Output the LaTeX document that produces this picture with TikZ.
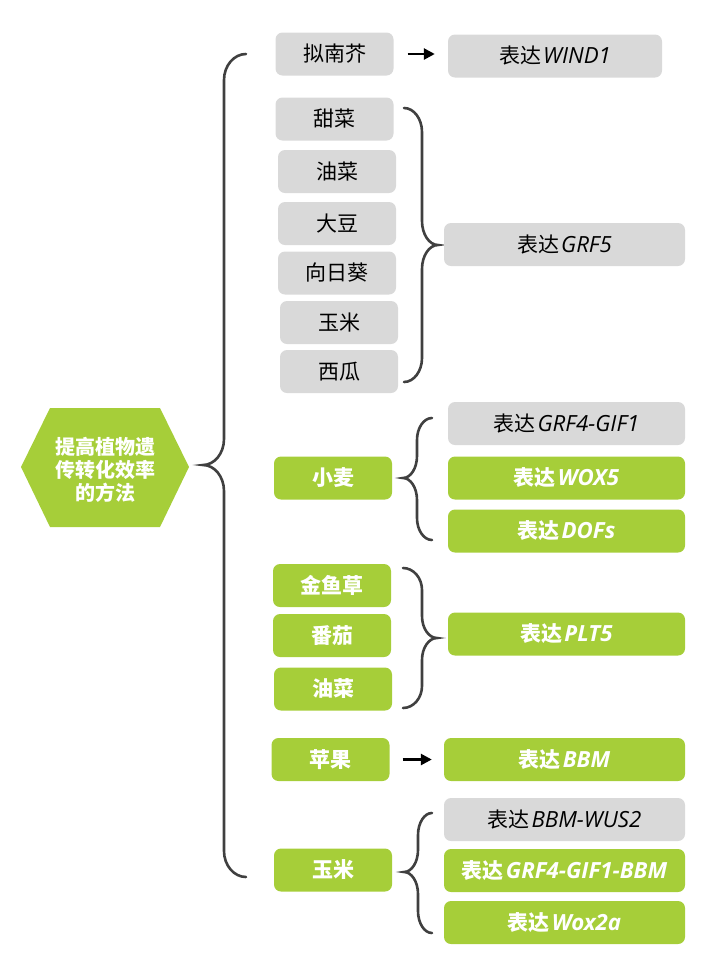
\documentclass[tikz,border=0pt]{standalone}
\usepackage{fontspec}
\setmainfont{Noto Sans CJK SC}
\newfontfamily\genefont[Scale=1.06]{Open Sans}
\usetikzlibrary{arrows.meta}

\definecolor{leafgreen}{HTML}{A6CE39}
\definecolor{boxgray}{HTML}{D9D9D9}
\definecolor{bracegray}{HTML}{404040}

\newcommand\gene[1]{\hspace{2pt}{\genefont\itshape #1}}
% end x, vertical x, tip x, top y, tip y, bottom y, bend
\newcommand\curlybrace[7]{%
  \draw[brace] (#1,#4) .. controls ({#2+0.45*(#1-#2)},#4) and (#2,{#4+0.45*#7}) .. (#2,#4+#7)
    -- (#2,#5-#7) .. controls (#2,{#5-0.45*#7}) and ({#2+0.45*(#3-#2)},#5) .. (#3,#5)
    .. controls ({#2+0.45*(#3-#2)},#5) and (#2,{#5+0.45*#7}) .. (#2,#5+#7)
    -- (#2,#6-#7) .. controls (#2,{#6-0.45*#7}) and ({#2+0.45*(#1-#2)},#6) .. (#1,#6);}

\begin{document}
\begin{tikzpicture}[x=1pt, y=-1pt, >=Stealth, font=\fontsize{21}{25}\selectfont,
    tagbox/.style={rounded corners=7pt, inner sep=0pt, minimum height=43pt},
    cropbox/.style={tagbox, minimum width=118pt},
    traitbox/.style={tagbox, minimum width=240pt},
    grey/.style={fill=boxgray},
    lime/.style={fill=leafgreen, text=white, font=\fontsize{21}{25}\selectfont\bfseries},
    brace/.style={draw=bracegray, line width=2.6pt, line cap=round},
    arrowline/.style={-{Triangle[length=11pt,width=11pt]}, line width=2.6pt, shorten <=14pt, shorten >=13pt}]
  \useasboundingbox (0,0) rectangle (722,970);

  % goal
  \fill[leafgreen] (21,467) -- (50,408) -- (160,408) -- (189,467) -- (160,527) -- (50,527) -- cycle;
  \node[align=center, text=white, font=\fontsize{20}{23}\selectfont\bfseries] (goal) at (106,470) {提高植物遗\\传转化效率\\的方法};
  \curlybrace{246}{224}{203}{54}{465}{877}{26}

  % Arabidopsis
  \node[cropbox, grey] (nan) at (334.5,54) {拟南芥};
  \node[traitbox, grey, minimum width=214pt] (wind) at (555,56) {表达\gene{WIND1}};
  \draw[arrowline] (nan.east) -- (nan.east -| wind.west);

  % GRF5 group
  \node[cropbox, grey] (tian) at (334.5,119) {甜菜};
  \node[cropbox, grey] (you1) at (337,171.5) {油菜};
  \node[cropbox, grey] (dadou) at (337,223.5) {大豆};
  \node[cropbox, grey] (kui) at (337,273) {向日葵};
  \node[cropbox, grey] (yumi1) at (339,322.5) {玉米};
  \node[cropbox, grey] (xigua) at (339,371.5) {西瓜};
  \curlybrace{404}{422}{438}{108}{245}{382}{24}
  \node[traitbox, grey, minimum width=241pt] (grf5) at (564.5,244.5) {表达\gene{GRF5}};

  % wheat
  \node[cropbox, lime] (xiaomai) at (333,478) {小麦};
  \curlybrace{432}{417}{403}{418}{478}{540}{22}
  \node[traitbox, grey, minimum width=237pt] (gif1) at (566.5,423.5) {表达\gene{GRF4-GIF1}};
  \node[traitbox, lime, minimum width=237pt] (wox5) at (566.5,478) {表达\gene{WOX5}};
  \node[traitbox, lime, minimum width=237pt] (dofs) at (566.5,531) {表达\gene{DOFs}};

  % PLT5 group
  \node[cropbox, lime] (jinyu) at (332,585.5) {金鱼草};
  \node[cropbox, lime] (fanqie) at (332,635.5) {番茄};
  \node[cropbox, lime] (you2) at (333,689) {油菜};
  \curlybrace{403}{422}{437}{568}{638}{708}{22}
  \node[traitbox, lime, minimum width=237pt] (plt5) at (566.5,634) {表达\gene{PLT5}};

  % apple
  \node[cropbox, lime] (pingguo) at (330.5,759.5) {苹果};
  \node[traitbox, lime, minimum width=241pt] (bbm) at (564.5,759.5) {表达\gene{BBM}};
  \draw[arrowline, shorten <=13pt, shorten >=12pt] (pingguo.east) -- (pingguo.east -| bbm.west);

  % maize
  \node[cropbox, lime] (yumi2) at (333,870) {玉米};
  \curlybrace{432}{418}{404}{813}{872}{933}{22}
  \node[traitbox, grey, minimum width=241pt] (wus2) at (564.5,819.5) {表达\gene{BBM-WUS2}};
  \node[traitbox, lime, minimum width=241pt] (gifbbm) at (564.5,870.5) {表达\gene{GRF4-GIF1-BBM}};
  \node[traitbox, lime, minimum width=241pt] (wox2a) at (564.5,922.5) {表达\gene{Wox2a}};
\end{tikzpicture}
\end{document}
